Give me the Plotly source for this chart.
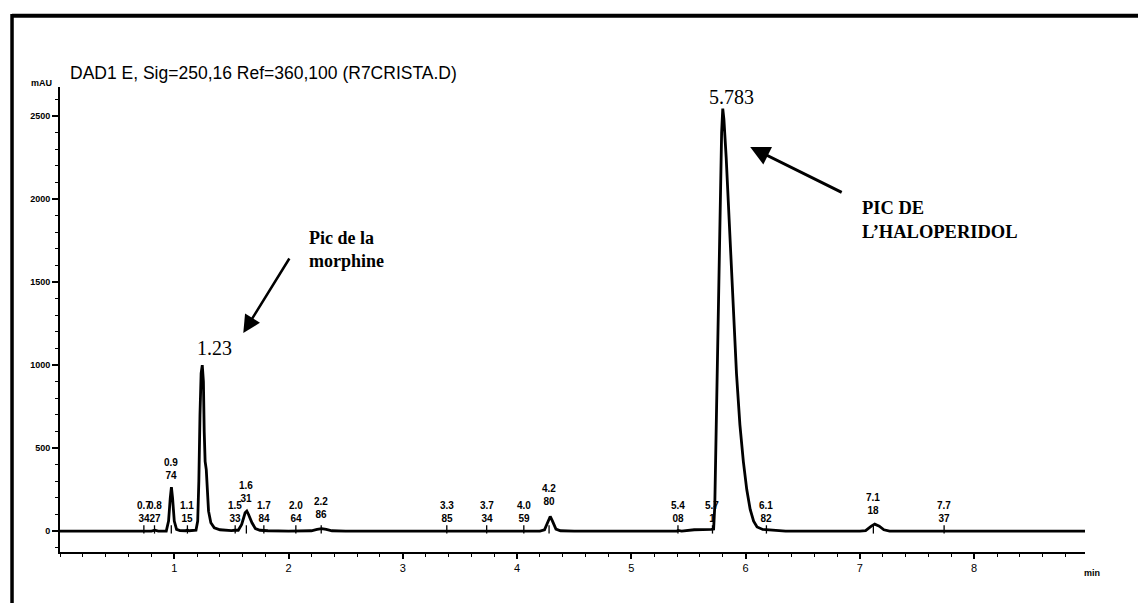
import plotly.graph_objects as go

# ---- chromatogram trace ----
time_min = [0.0, 0.70, 0.73, 0.76, 0.80, 0.83, 0.86, 0.93, 0.95, 0.965, 0.975, 0.985, 1.00, 1.02,
            1.05, 1.10, 1.115, 1.13, 1.19, 1.205, 1.215, 1.225, 1.235, 1.245, 1.255, 1.262, 1.27,
            1.28, 1.29, 1.30, 1.32, 1.35, 1.40, 1.45, 1.50, 1.53, 1.56, 1.59, 1.62, 1.635, 1.65,
            1.68, 1.71, 1.75, 1.784, 1.82, 2.0, 2.064, 2.2, 2.25, 2.29, 2.33, 2.38, 2.5, 3.385,
            4.0, 4.059, 4.2, 4.24, 4.27, 4.29, 4.31, 4.34, 4.38, 4.5, 5.40, 5.41, 5.44, 5.55,
            5.70, 5.72, 5.73, 5.74, 5.755, 5.77, 5.78, 5.79, 5.80, 5.81, 5.83, 5.86, 5.89, 5.92,
            5.95, 5.98, 6.01, 6.04, 6.07, 6.10, 6.15, 6.18, 6.25, 6.35, 7.0, 7.05, 7.10, 7.13,
            7.17, 7.21, 7.26, 9.0]
signal_mau = [0, 0, 4, 0, 0, 5, 0, 0, 60, 200, 265, 200, 60, 10,
              3, 2, 6, 2, 5, 60, 300, 700, 950, 1000, 900, 600, 420,
              370, 250, 120, 50, 20, 8, 4, 3, 5, 5, 40, 110, 120, 100,
              50, 15, 5, 5, 2, 0, 2, 2, 10, 15, 10, 2, 0, 0,
              0, 2, 0, 8, 60, 88, 60, 12, 2, 0, 0, 4, 0, 8,
              10, 12, 150, 550, 1000, 1500, 1900, 2400, 2545, 2480, 2250, 1800, 1350, 950,
              640, 420, 250, 130, 60, 25, 10, 8, 3, 0, 0, 3, 30, 42,
              30, 8, 0, 0]

# ---- integrator retention-time labels ----
label_rt = [0.734, 0.827, 0.974, 1.115, 1.533, 1.631, 1.784, 2.064, 2.286, 3.385, 3.734,
            4.059, 4.280, 5.408, 5.71, 6.182, 7.118, 7.737]
label_top = ["0.7", "0.8", "0.9", "1.1", "1.5", "1.6", "1.7", "2.0", "2.2", "3.3", "3.7",
             "4.0", "4.2", "5.4", "5.7", "6.1", "7.1", "7.7"]
label_bottom = ["34", "27", "74", "15", "33", "31", "84", "64", "86", "85", "34",
                "59", "80", "08", "1", "82", "18", "37"]
label_y_mau = [30, 30, 290, 30, 30, 150, 30, 30, 54, 30, 30, 30, 133, 30, 30, 30, 78, 30]

title_text = "DAD1 E, Sig=250,16 Ref=360,100 (R7CRISTA.D)"
y_ticks = [0, 500, 1000, 1500, 2000, 2500]
x_ticks = [1, 2, 3, 4, 5, 6, 7, 8]

fig = go.Figure()

fig.add_trace(go.Scatter(x=time_min, y=signal_mau, mode="lines",
                         line=dict(color="black", width=2.8), hoverinfo="skip",
                         showlegend=False))

# retention-time markers
mx, my = [], []
for rt in label_rt:
    mx += [rt, rt, None]
    my += [-15, 35, None]
fig.add_trace(go.Scatter(x=mx, y=my, mode="lines", line=dict(color="black", width=1.3),
                         hoverinfo="skip", showlegend=False))

annotations = []
for rt, t, b, yy in zip(label_rt, label_top, label_bottom, label_y_mau):
    annotations.append(dict(x=rt, y=yy, xref="x", yref="y", text=f"<b>{t}<br>{b}</b>",
                            showarrow=False, xanchor="center", yanchor="bottom",
                            font=dict(family="Arial", size=10, color="black")))

annotations += [
    dict(x=0.0078, xref="paper", y=1.030, yref="paper", text=title_text, showarrow=False,
         xanchor="left", yanchor="middle", font=dict(family="Arial", size=17.5, color="black")),
    dict(x=-0.0176, xref="paper", y=1.0086, yref="paper", text="<b>mAU</b>", showarrow=False,
         xanchor="center", yanchor="middle", font=dict(family="Arial", size=9, color="black")),
    dict(x=0.997, xref="paper", y=-0.045, yref="paper", text="<b>min</b>", showarrow=False,
         xanchor="left", yanchor="middle", font=dict(family="Arial", size=9, color="black")),
    dict(x=1.35, y=1102, xref="x", yref="y", text="1.23", showarrow=False,
         font=dict(family="Liberation Serif", size=20, color="black")),
    dict(x=5.873, y=2614, xref="x", yref="y", text="5.783", showarrow=False,
         font=dict(family="Liberation Serif", size=20, color="black")),
    dict(x=2.165, y=1699, xref="x", yref="y", text="<b>Pic de la<br>morphine</b>",
         showarrow=False, xanchor="left", yanchor="middle", align="left",
         font=dict(family="Liberation Serif", size=18, color="black")),
    dict(x=7.0, y=1876, xref="x", yref="y", text="<b>PIC DE<br>L’HALOPERIDOL</b>",
         showarrow=False, xanchor="left", yanchor="middle", align="left",
         font=dict(family="Liberation Serif", size=18.5, color="black")),
    dict(x=1.604, y=1193, xref="x", yref="y", text="", showarrow=True, ax=47, ay=-76,
         arrowhead=2, arrowsize=1.4, arrowwidth=2.5, arrowcolor="black"),
    dict(x=6.04, y=2313, xref="x", yref="y", text="", showarrow=True, ax=93, ay=46,
         arrowhead=2, arrowsize=1.3, arrowwidth=3, arrowcolor="black"),
]

fig.update_layout(
    width=1146, height=603,
    margin=dict(l=52, r=69, t=79, b=59),
    paper_bgcolor="white", plot_bgcolor="white",
    annotations=annotations,
    shapes=[
        dict(type="line", xref="paper", yref="paper", x0=-0.0468, x1=1.07, y0=1.153, y1=1.153,
             line=dict(color="black", width=4)),
        dict(type="line", xref="paper", yref="paper", x0=-0.0468, x1=-0.0468, y0=1.157, y1=-0.12,
             line=dict(color="black", width=3.5)),
    ],
    xaxis=dict(range=[0, 8.97], showgrid=False, zeroline=False, showline=True,
               linecolor="black", linewidth=2, ticks="outside", ticklen=5, tickwidth=1.5,
               tickcolor="black", tickvals=x_ticks, ticktext=[str(v) for v in x_ticks],
               tickfont=dict(family="Arial", size=11, color="black"),
               minor=dict(dtick=0.2, tick0=0, ticks="outside", ticklen=3, tickwidth=1.2,
                          tickcolor="black"),
               fixedrange=True),
    yaxis=dict(range=[-126, 2675], showgrid=False, zeroline=False, showline=True,
               linecolor="black", linewidth=2, ticks="outside", ticklen=6, tickwidth=1.5,
               tickcolor="black", tickvals=y_ticks,
               ticktext=[f"<b>{v}</b>" for v in y_ticks],
               tickfont=dict(family="Arial", size=9, color="black"),
               minor=dict(dtick=100, tick0=0, ticks="outside", ticklen=3, tickwidth=1.2,
                          tickcolor="black"),
               fixedrange=True),
)

fig.write_html("out.html")
